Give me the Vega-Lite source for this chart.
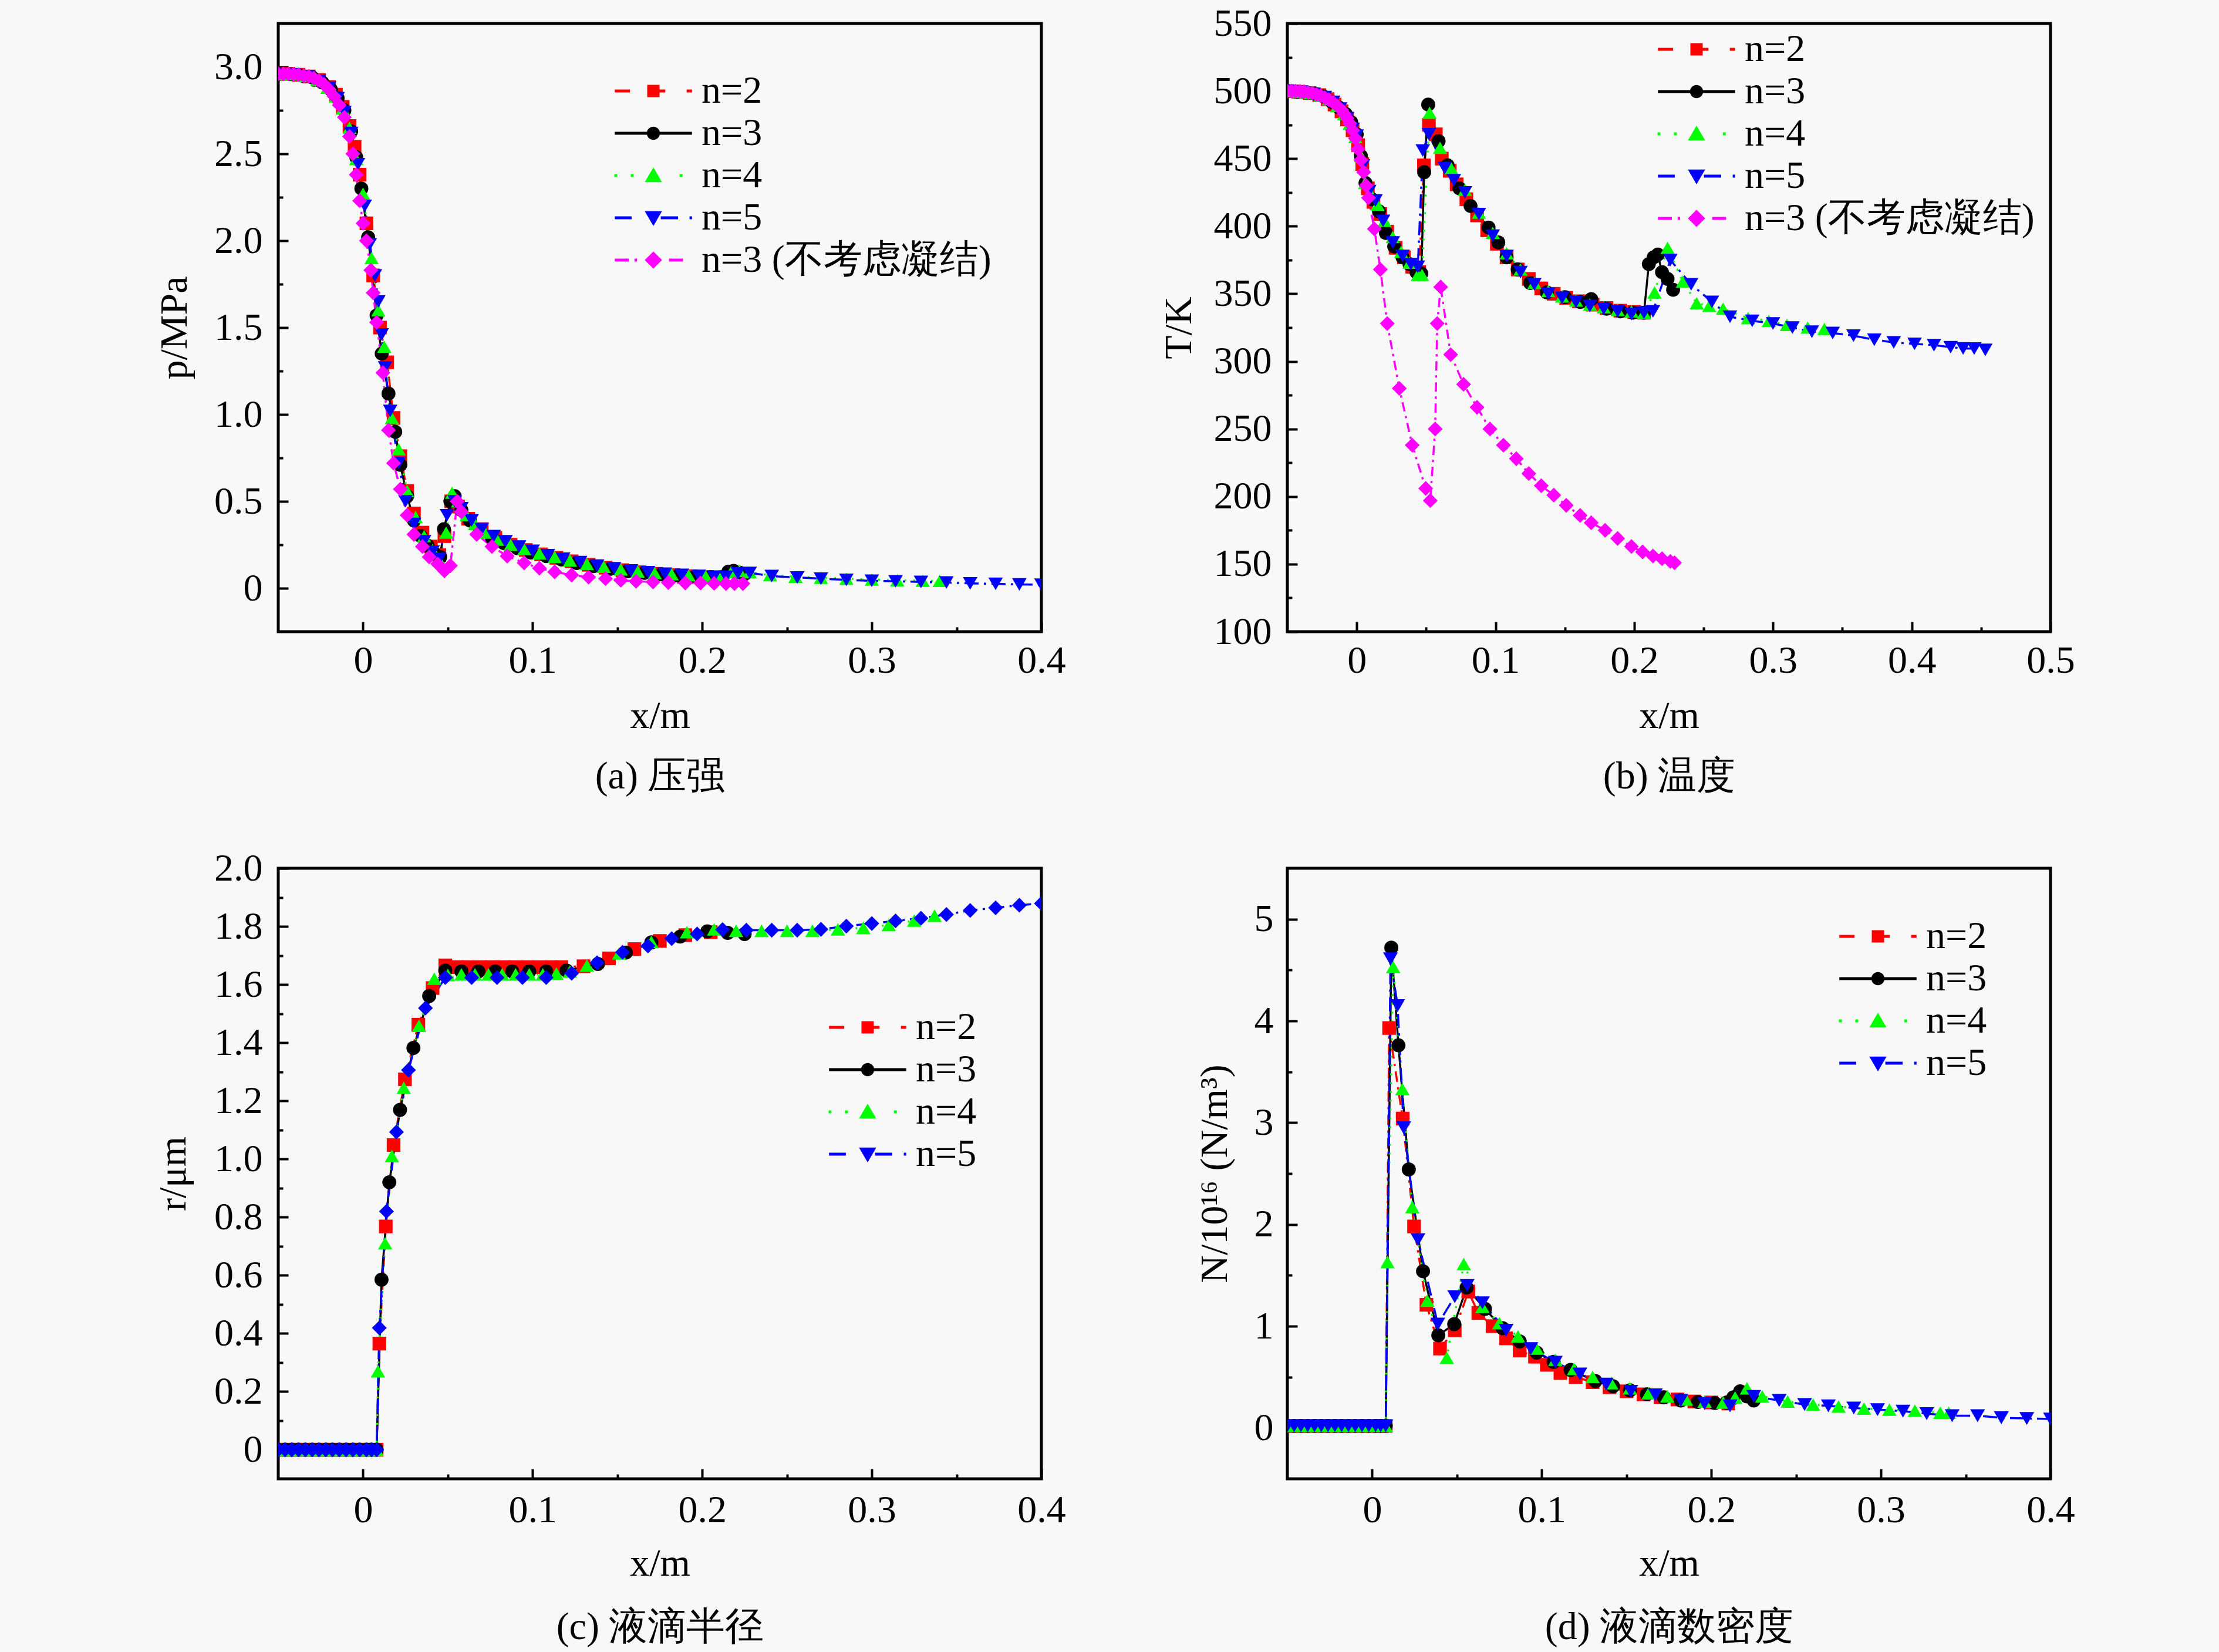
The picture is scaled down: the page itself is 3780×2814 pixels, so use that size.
{
  "$schema": "https://vega.github.io/schema/vega-lite/v6.json",
  "background": "#F8F8F8",
  "padding": {"left": 259, "top": 4, "right": 260, "bottom": 40},
  "config": {
    "font": "Liberation Serif",
    "view": {"stroke": "black", "strokeWidth": 5},
    "axis": {
      "grid": false, "domain": false,
      "labelFont": "Liberation Serif", "labelFontSize": 66, "labelColor": "black",
      "titleFont": "Liberation Serif", "titleFontSize": 66, "titleFontWeight": "normal", "titleColor": "black",
      "titleAlign": "center", "titleBaseline": "alphabetic",
      "tickColor": "black", "tickWidth": 4,
      "labelFlush": false, "labelOverlap": false, "labelBound": false
    },
    "legend": {
      "labelFont": "Liberation Serif", "labelFontSize": 66, "labelColor": "black", "labelLimit": 0,
      "symbolStrokeWidth": 0, "symbolSize": 784, "symbolOpacity": 1, "rowPadding": 6, "padding": 0, "labelOffset": 49
    }
  },
  "datasets": {
    "a": [
      {"s":"n=2","x":-0.05,"y":2.96},{"s":"n=2","x":-0.044,"y":2.96},{"s":"n=2","x":-0.038,"y":2.955},{"s":"n=2","x":-0.032,"y":2.945},{"s":"n=2","x":-0.026,"y":2.925},{"s":"n=2","x":-0.02,"y":2.885},{"s":"n=2","x":-0.016,"y":2.84},{"s":"n=2","x":-0.012,"y":2.77},{"s":"n=2","x":-0.008,"y":2.66},{"s":"n=2","x":-0.005,"y":2.54},{"s":"n=2","x":-0.002,"y":2.38},{"s":"n=2","x":0.002,"y":2.1},{"s":"n=2","x":0.006,"y":1.8},{"s":"n=2","x":0.01,"y":1.5},{"s":"n=2","x":0.0142,"y":1.3},{"s":"n=2","x":0.018,"y":0.98},{"s":"n=2","x":0.022,"y":0.76},{"s":"n=2","x":0.026,"y":0.56},{"s":"n=2","x":0.03,"y":0.43},{"s":"n=2","x":0.035,"y":0.32},{"s":"n=2","x":0.04,"y":0.24},{"s":"n=2","x":0.045,"y":0.19},{"s":"n=2","x":0.048,"y":0.3},{"s":"n=2","x":0.052,"y":0.5},{"s":"n=2","x":0.056,"y":0.47},{"s":"n=2","x":0.062,"y":0.4},{"s":"n=2","x":0.07,"y":0.34},{"s":"n=2","x":0.078,"y":0.29},{"s":"n=2","x":0.087,"y":0.25},{"s":"n=2","x":0.096,"y":0.22},{"s":"n=2","x":0.105,"y":0.195},{"s":"n=2","x":0.114,"y":0.175},{"s":"n=2","x":0.123,"y":0.155},{"s":"n=2","x":0.133,"y":0.135},{"s":"n=2","x":0.143,"y":0.118},{"s":"n=2","x":0.153,"y":0.104},{"s":"n=2","x":0.163,"y":0.092},{"s":"n=2","x":0.173,"y":0.083},{"s":"n=2","x":0.183,"y":0.075},{"s":"n=2","x":0.193,"y":0.069},{"s":"n=2","x":0.203,"y":0.064},{"s":"n=2","x":0.21,"y":0.062},
      {"s":"n=3","x":-0.05,"y":2.96},{"s":"n=3","x":-0.043,"y":2.958},{"s":"n=3","x":-0.036,"y":2.95},{"s":"n=3","x":-0.03,"y":2.94},{"s":"n=3","x":-0.024,"y":2.91},{"s":"n=3","x":-0.019,"y":2.87},{"s":"n=3","x":-0.015,"y":2.82},{"s":"n=3","x":-0.011,"y":2.75},{"s":"n=3","x":-0.007,"y":2.63},{"s":"n=3","x":-0.004,"y":2.48},{"s":"n=3","x":-0.001,"y":2.3},{"s":"n=3","x":0.003,"y":2.02},{"s":"n=3","x":0.008,"y":1.57},{"s":"n=3","x":0.011,"y":1.35},{"s":"n=3","x":0.015,"y":1.12},{"s":"n=3","x":0.019,"y":0.9},{"s":"n=3","x":0.022,"y":0.71},{"s":"n=3","x":0.026,"y":0.53},{"s":"n=3","x":0.03,"y":0.39},{"s":"n=3","x":0.034,"y":0.3},{"s":"n=3","x":0.038,"y":0.245},{"s":"n=3","x":0.042,"y":0.2},{"s":"n=3","x":0.0455,"y":0.18},{"s":"n=3","x":0.0477,"y":0.34},{"s":"n=3","x":0.0515,"y":0.5},{"s":"n=3","x":0.054,"y":0.53},{"s":"n=3","x":0.058,"y":0.45},{"s":"n=3","x":0.063,"y":0.39},{"s":"n=3","x":0.069,"y":0.33},{"s":"n=3","x":0.076,"y":0.29},{"s":"n=3","x":0.083,"y":0.26},{"s":"n=3","x":0.091,"y":0.23},{"s":"n=3","x":0.099,"y":0.205},{"s":"n=3","x":0.108,"y":0.185},{"s":"n=3","x":0.117,"y":0.165},{"s":"n=3","x":0.126,"y":0.145},{"s":"n=3","x":0.136,"y":0.127},{"s":"n=3","x":0.146,"y":0.112},{"s":"n=3","x":0.156,"y":0.098},{"s":"n=3","x":0.166,"y":0.088},{"s":"n=3","x":0.176,"y":0.08},{"s":"n=3","x":0.186,"y":0.073},{"s":"n=3","x":0.196,"y":0.068},{"s":"n=3","x":0.205,"y":0.064},{"s":"n=3","x":0.212,"y":0.066},{"s":"n=3","x":0.2155,"y":0.096},{"s":"n=3","x":0.2185,"y":0.1},{"s":"n=3","x":0.222,"y":0.09},{"s":"n=3","x":0.225,"y":0.082},
      {"s":"n=4","x":-0.05,"y":2.96},{"s":"n=4","x":-0.042,"y":2.958},{"s":"n=4","x":-0.034,"y":2.948},{"s":"n=4","x":-0.027,"y":2.925},{"s":"n=4","x":-0.021,"y":2.88},{"s":"n=4","x":-0.016,"y":2.83},{"s":"n=4","x":-0.012,"y":2.76},{"s":"n=4","x":-0.008,"y":2.65},{"s":"n=4","x":-0.004,"y":2.47},{"s":"n=4","x":0.0,"y":2.27},{"s":"n=4","x":0.005,"y":1.9},{"s":"n=4","x":0.009,"y":1.6},{"s":"n=4","x":0.0125,"y":1.39},{"s":"n=4","x":0.017,"y":0.98},{"s":"n=4","x":0.021,"y":0.8},{"s":"n=4","x":0.026,"y":0.56},{"s":"n=4","x":0.031,"y":0.41},{"s":"n=4","x":0.036,"y":0.3},{"s":"n=4","x":0.041,"y":0.22},{"s":"n=4","x":0.045,"y":0.16},{"s":"n=4","x":0.049,"y":0.32},{"s":"n=4","x":0.0525,"y":0.55},{"s":"n=4","x":0.056,"y":0.5},{"s":"n=4","x":0.061,"y":0.42},{"s":"n=4","x":0.066,"y":0.37},{"s":"n=4","x":0.072,"y":0.32},{"s":"n=4","x":0.079,"y":0.28},{"s":"n=4","x":0.087,"y":0.25},{"s":"n=4","x":0.095,"y":0.225},{"s":"n=4","x":0.104,"y":0.2},{"s":"n=4","x":0.113,"y":0.18},{"s":"n=4","x":0.122,"y":0.16},{"s":"n=4","x":0.132,"y":0.14},{"s":"n=4","x":0.142,"y":0.123},{"s":"n=4","x":0.152,"y":0.108},{"s":"n=4","x":0.162,"y":0.096},{"s":"n=4","x":0.172,"y":0.087},{"s":"n=4","x":0.182,"y":0.08},{"s":"n=4","x":0.192,"y":0.074},{"s":"n=4","x":0.202,"y":0.07},{"s":"n=4","x":0.211,"y":0.072},{"s":"n=4","x":0.217,"y":0.092},{"s":"n=4","x":0.222,"y":0.1},{"s":"n=4","x":0.228,"y":0.092},{"s":"n=4","x":0.24,"y":0.075},{"s":"n=4","x":0.255,"y":0.066},{"s":"n=4","x":0.27,"y":0.06},{"s":"n=4","x":0.285,"y":0.055},{"s":"n=4","x":0.3,"y":0.05},{"s":"n=4","x":0.315,"y":0.046},{"s":"n=4","x":0.33,"y":0.043},{"s":"n=4","x":0.34,"y":0.042},
      {"s":"n=5","x":-0.05,"y":2.96},{"s":"n=5","x":-0.041,"y":2.957},{"s":"n=5","x":-0.033,"y":2.946},{"s":"n=5","x":-0.026,"y":2.92},{"s":"n=5","x":-0.02,"y":2.88},{"s":"n=5","x":-0.015,"y":2.82},{"s":"n=5","x":-0.011,"y":2.74},{"s":"n=5","x":-0.007,"y":2.62},{"s":"n=5","x":-0.003,"y":2.44},{"s":"n=5","x":0.001,"y":2.2},{"s":"n=5","x":0.004,"y":1.98},{"s":"n=5","x":0.007,"y":1.8},{"s":"n=5","x":0.009,"y":1.65},{"s":"n=5","x":0.011,"y":1.46},{"s":"n=5","x":0.013,"y":1.27},{"s":"n=5","x":0.016,"y":1.02},{"s":"n=5","x":0.021,"y":0.72},{"s":"n=5","x":0.025,"y":0.5},{"s":"n=5","x":0.03,"y":0.37},{"s":"n=5","x":0.036,"y":0.27},{"s":"n=5","x":0.041,"y":0.21},{"s":"n=5","x":0.045,"y":0.17},{"s":"n=5","x":0.0495,"y":0.42},{"s":"n=5","x":0.054,"y":0.5},{"s":"n=5","x":0.058,"y":0.46},{"s":"n=5","x":0.064,"y":0.39},{"s":"n=5","x":0.07,"y":0.34},{"s":"n=5","x":0.077,"y":0.3},{"s":"n=5","x":0.084,"y":0.27},{"s":"n=5","x":0.092,"y":0.24},{"s":"n=5","x":0.1,"y":0.215},{"s":"n=5","x":0.109,"y":0.19},{"s":"n=5","x":0.118,"y":0.17},{"s":"n=5","x":0.128,"y":0.15},{"s":"n=5","x":0.138,"y":0.13},{"s":"n=5","x":0.148,"y":0.115},{"s":"n=5","x":0.158,"y":0.102},{"s":"n=5","x":0.168,"y":0.092},{"s":"n=5","x":0.178,"y":0.084},{"s":"n=5","x":0.188,"y":0.077},{"s":"n=5","x":0.198,"y":0.071},{"s":"n=5","x":0.207,"y":0.067},{"s":"n=5","x":0.214,"y":0.066},{"s":"n=5","x":0.221,"y":0.085},{"s":"n=5","x":0.228,"y":0.088},{"s":"n=5","x":0.241,"y":0.07},{"s":"n=5","x":0.256,"y":0.062},{"s":"n=5","x":0.27,"y":0.055},{"s":"n=5","x":0.285,"y":0.048},{"s":"n=5","x":0.3,"y":0.043},{"s":"n=5","x":0.314,"y":0.04},{"s":"n=5","x":0.329,"y":0.036},{"s":"n=5","x":0.344,"y":0.033},{"s":"n=5","x":0.358,"y":0.028},{"s":"n=5","x":0.373,"y":0.025},{"s":"n=5","x":0.387,"y":0.022},{"s":"n=5","x":0.4,"y":0.02},
      {"s":"n=3 (不考虑凝结)","x":-0.05,"y":2.96},{"s":"n=3 (不考虑凝结)","x":-0.047,"y":2.96},{"s":"n=3 (不考虑凝结)","x":-0.044,"y":2.96},{"s":"n=3 (不考虑凝结)","x":-0.041,"y":2.958},{"s":"n=3 (不考虑凝结)","x":-0.038,"y":2.955},{"s":"n=3 (不考虑凝结)","x":-0.035,"y":2.95},{"s":"n=3 (不考虑凝结)","x":-0.032,"y":2.945},{"s":"n=3 (不考虑凝结)","x":-0.029,"y":2.935},{"s":"n=3 (不考虑凝结)","x":-0.026,"y":2.92},{"s":"n=3 (不考虑凝结)","x":-0.023,"y":2.9},{"s":"n=3 (不考虑凝结)","x":-0.02,"y":2.87},{"s":"n=3 (不考虑凝结)","x":-0.017,"y":2.83},{"s":"n=3 (不考虑凝结)","x":-0.014,"y":2.78},{"s":"n=3 (不考虑凝结)","x":-0.011,"y":2.71},{"s":"n=3 (不考虑凝结)","x":-0.008,"y":2.6},{"s":"n=3 (不考虑凝结)","x":-0.006,"y":2.5},{"s":"n=3 (不考虑凝结)","x":-0.004,"y":2.38},{"s":"n=3 (不考虑凝结)","x":-0.002,"y":2.23},{"s":"n=3 (不考虑凝结)","x":0.0,"y":2.1},{"s":"n=3 (不考虑凝结)","x":0.002,"y":2.0},{"s":"n=3 (不考虑凝结)","x":0.0046,"y":1.83},{"s":"n=3 (不考虑凝结)","x":0.006,"y":1.7},{"s":"n=3 (不考虑凝结)","x":0.008,"y":1.53},{"s":"n=3 (不考虑凝结)","x":0.0117,"y":1.24},{"s":"n=3 (不考虑凝结)","x":0.015,"y":0.91},{"s":"n=3 (不考虑凝结)","x":0.018,"y":0.72},{"s":"n=3 (不考虑凝结)","x":0.022,"y":0.57},{"s":"n=3 (不考虑凝结)","x":0.026,"y":0.42},{"s":"n=3 (不考虑凝结)","x":0.03,"y":0.31},{"s":"n=3 (不考虑凝结)","x":0.035,"y":0.24},{"s":"n=3 (不考虑凝结)","x":0.039,"y":0.18},{"s":"n=3 (不考虑凝结)","x":0.044,"y":0.14},{"s":"n=3 (不考虑凝结)","x":0.048,"y":0.1},{"s":"n=3 (不考虑凝结)","x":0.0515,"y":0.13},{"s":"n=3 (不考虑凝结)","x":0.0555,"y":0.5},{"s":"n=3 (不考虑凝结)","x":0.058,"y":0.44},{"s":"n=3 (不考虑凝结)","x":0.067,"y":0.31},{"s":"n=3 (不考虑凝结)","x":0.076,"y":0.24},{"s":"n=3 (不考虑凝结)","x":0.085,"y":0.185},{"s":"n=3 (不考虑凝结)","x":0.095,"y":0.146},{"s":"n=3 (不考虑凝结)","x":0.104,"y":0.115},{"s":"n=3 (不考虑凝结)","x":0.113,"y":0.094},{"s":"n=3 (不考虑凝结)","x":0.123,"y":0.076},{"s":"n=3 (不考虑凝结)","x":0.133,"y":0.064},{"s":"n=3 (不考虑凝结)","x":0.143,"y":0.055},{"s":"n=3 (不考虑凝结)","x":0.152,"y":0.046},{"s":"n=3 (不考虑凝结)","x":0.161,"y":0.04},{"s":"n=3 (不考虑凝结)","x":0.171,"y":0.036},{"s":"n=3 (不考虑凝结)","x":0.18,"y":0.033},{"s":"n=3 (不考虑凝结)","x":0.19,"y":0.03},{"s":"n=3 (不考虑凝结)","x":0.199,"y":0.03},{"s":"n=3 (不考虑凝结)","x":0.207,"y":0.028},{"s":"n=3 (不考虑凝结)","x":0.214,"y":0.027},{"s":"n=3 (不考虑凝结)","x":0.219,"y":0.027},{"s":"n=3 (不考虑凝结)","x":0.224,"y":0.027}
    ],
    "b": [
      {"s":"n=2","x":-0.05,"y":500},{"s":"n=2","x":-0.042,"y":499.5},{"s":"n=2","x":-0.034,"y":498.5},{"s":"n=2","x":-0.027,"y":497},{"s":"n=2","x":-0.021,"y":494},{"s":"n=2","x":-0.016,"y":490},{"s":"n=2","x":-0.011,"y":485},{"s":"n=2","x":-0.007,"y":479},{"s":"n=2","x":-0.003,"y":471},{"s":"n=2","x":0.001,"y":460},{"s":"n=2","x":0.004,"y":446},{"s":"n=2","x":0.008,"y":428},{"s":"n=2","x":0.012,"y":418},{"s":"n=2","x":0.017,"y":409},{"s":"n=2","x":0.022,"y":396},{"s":"n=2","x":0.028,"y":384},{"s":"n=2","x":0.034,"y":377},{"s":"n=2","x":0.04,"y":370},{"s":"n=2","x":0.045,"y":366},{"s":"n=2","x":0.0484,"y":445},{"s":"n=2","x":0.052,"y":475},{"s":"n=2","x":0.057,"y":468},{"s":"n=2","x":0.0613,"y":450},{"s":"n=2","x":0.067,"y":441},{"s":"n=2","x":0.072,"y":431},{"s":"n=2","x":0.079,"y":420},{"s":"n=2","x":0.0867,"y":408},{"s":"n=2","x":0.094,"y":397},{"s":"n=2","x":0.101,"y":387},{"s":"n=2","x":0.108,"y":377},{"s":"n=2","x":0.116,"y":368},{"s":"n=2","x":0.124,"y":361},{"s":"n=2","x":0.133,"y":354},{"s":"n=2","x":0.142,"y":350},{"s":"n=2","x":0.151,"y":347},{"s":"n=2","x":0.16,"y":344.5},{"s":"n=2","x":0.17,"y":342},{"s":"n=2","x":0.18,"y":339.5},{"s":"n=2","x":0.19,"y":337.5},{"s":"n=2","x":0.2,"y":336.5},{"s":"n=2","x":0.207,"y":336},
      {"s":"n=3","x":-0.05,"y":500},{"s":"n=3","x":-0.043,"y":499.5},{"s":"n=3","x":-0.036,"y":499},{"s":"n=3","x":-0.03,"y":498},{"s":"n=3","x":-0.024,"y":496},{"s":"n=3","x":-0.018,"y":492},{"s":"n=3","x":-0.013,"y":488},{"s":"n=3","x":-0.008,"y":483},{"s":"n=3","x":-0.004,"y":477},{"s":"n=3","x":0.0,"y":468},{"s":"n=3","x":0.003,"y":452},{"s":"n=3","x":0.0063,"y":432},{"s":"n=3","x":0.011,"y":420},{"s":"n=3","x":0.016,"y":411},{"s":"n=3","x":0.021,"y":395},{"s":"n=3","x":0.027,"y":385},{"s":"n=3","x":0.033,"y":377},{"s":"n=3","x":0.038,"y":372},{"s":"n=3","x":0.043,"y":366},{"s":"n=3","x":0.0465,"y":365},{"s":"n=3","x":0.0486,"y":440},{"s":"n=3","x":0.0515,"y":490},{"s":"n=3","x":0.059,"y":463},{"s":"n=3","x":0.0655,"y":445},{"s":"n=3","x":0.074,"y":428},{"s":"n=3","x":0.082,"y":415},{"s":"n=3","x":0.095,"y":399},{"s":"n=3","x":0.102,"y":388},{"s":"n=3","x":0.108,"y":377},{"s":"n=3","x":0.116,"y":368},{"s":"n=3","x":0.125,"y":358},{"s":"n=3","x":0.137,"y":351},{"s":"n=3","x":0.15,"y":347.5},{"s":"n=3","x":0.161,"y":344},{"s":"n=3","x":0.169,"y":346},{"s":"n=3","x":0.18,"y":339},{"s":"n=3","x":0.19,"y":337},{"s":"n=3","x":0.199,"y":336},{"s":"n=3","x":0.207,"y":336},{"s":"n=3","x":0.2105,"y":372},{"s":"n=3","x":0.214,"y":377},{"s":"n=3","x":0.217,"y":379},{"s":"n=3","x":0.22,"y":366},{"s":"n=3","x":0.224,"y":361},{"s":"n=3","x":0.228,"y":353},
      {"s":"n=4","x":-0.05,"y":500},{"s":"n=4","x":-0.041,"y":499.5},{"s":"n=4","x":-0.033,"y":498.5},{"s":"n=4","x":-0.026,"y":496.5},{"s":"n=4","x":-0.02,"y":494},{"s":"n=4","x":-0.014,"y":489},{"s":"n=4","x":-0.009,"y":483},{"s":"n=4","x":-0.005,"y":476},{"s":"n=4","x":-0.001,"y":466},{"s":"n=4","x":0.003,"y":452},{"s":"n=4","x":0.006,"y":432},{"s":"n=4","x":0.01,"y":424},{"s":"n=4","x":0.015,"y":416},{"s":"n=4","x":0.02,"y":404},{"s":"n=4","x":0.026,"y":392},{"s":"n=4","x":0.032,"y":381},{"s":"n=4","x":0.038,"y":373},{"s":"n=4","x":0.044,"y":364},{"s":"n=4","x":0.047,"y":364},{"s":"n=4","x":0.0525,"y":484},{"s":"n=4","x":0.06,"y":458},{"s":"n=4","x":0.068,"y":443},{"s":"n=4","x":0.078,"y":427},{"s":"n=4","x":0.088,"y":410},{"s":"n=4","x":0.098,"y":395},{"s":"n=4","x":0.108,"y":380},{"s":"n=4","x":0.118,"y":368},{"s":"n=4","x":0.128,"y":358},{"s":"n=4","x":0.138,"y":352},{"s":"n=4","x":0.148,"y":348},{"s":"n=4","x":0.158,"y":345},{"s":"n=4","x":0.168,"y":342},{"s":"n=4","x":0.178,"y":340},{"s":"n=4","x":0.188,"y":338},{"s":"n=4","x":0.198,"y":337},{"s":"n=4","x":0.207,"y":336},{"s":"n=4","x":0.2146,"y":351},{"s":"n=4","x":0.224,"y":384},{"s":"n=4","x":0.235,"y":359},{"s":"n=4","x":0.245,"y":343},{"s":"n=4","x":0.254,"y":341},{"s":"n=4","x":0.264,"y":339},{"s":"n=4","x":0.282,"y":332},{"s":"n=4","x":0.297,"y":330},{"s":"n=4","x":0.31,"y":327},{"s":"n=4","x":0.325,"y":325},{"s":"n=4","x":0.337,"y":324},
      {"s":"n=5","x":-0.05,"y":500},{"s":"n=5","x":-0.04,"y":499.5},{"s":"n=5","x":-0.031,"y":498},{"s":"n=5","x":-0.023,"y":495.5},{"s":"n=5","x":-0.017,"y":492},{"s":"n=5","x":-0.012,"y":487},{"s":"n=5","x":-0.007,"y":480},{"s":"n=5","x":-0.003,"y":472},{"s":"n=5","x":0.0,"y":467},{"s":"n=5","x":0.0045,"y":445},{"s":"n=5","x":0.009,"y":426},{"s":"n=5","x":0.0135,"y":419},{"s":"n=5","x":0.019,"y":404},{"s":"n=5","x":0.026,"y":388},{"s":"n=5","x":0.033,"y":378},{"s":"n=5","x":0.039,"y":372},{"s":"n=5","x":0.044,"y":370},{"s":"n=5","x":0.0476,"y":456},{"s":"n=5","x":0.052,"y":468},{"s":"n=5","x":0.0634,"y":443},{"s":"n=5","x":0.07,"y":434},{"s":"n=5","x":0.078,"y":425},{"s":"n=5","x":0.088,"y":409},{"s":"n=5","x":0.098,"y":393},{"s":"n=5","x":0.108,"y":378},{"s":"n=5","x":0.118,"y":366},{"s":"n=5","x":0.128,"y":357},{"s":"n=5","x":0.138,"y":350},{"s":"n=5","x":0.148,"y":347},{"s":"n=5","x":0.158,"y":344},{"s":"n=5","x":0.168,"y":341},{"s":"n=5","x":0.178,"y":339},{"s":"n=5","x":0.188,"y":337},{"s":"n=5","x":0.198,"y":335},{"s":"n=5","x":0.207,"y":336},{"s":"n=5","x":0.2135,"y":337},{"s":"n=5","x":0.226,"y":375},{"s":"n=5","x":0.241,"y":357},{"s":"n=5","x":0.256,"y":344},{"s":"n=5","x":0.269,"y":333},{"s":"n=5","x":0.285,"y":330},{"s":"n=5","x":0.3,"y":328},{"s":"n=5","x":0.314,"y":325},{"s":"n=5","x":0.328,"y":322},{"s":"n=5","x":0.343,"y":321},{"s":"n=5","x":0.358,"y":319},{"s":"n=5","x":0.373,"y":316},{"s":"n=5","x":0.387,"y":314},{"s":"n=5","x":0.402,"y":313},{"s":"n=5","x":0.416,"y":312},{"s":"n=5","x":0.428,"y":310.5},{"s":"n=5","x":0.437,"y":309.6},{"s":"n=5","x":0.445,"y":309.5},{"s":"n=5","x":0.453,"y":308.5},
      {"s":"n=3 (不考虑凝结)","x":-0.05,"y":500},{"s":"n=3 (不考虑凝结)","x":-0.047,"y":500},{"s":"n=3 (不考虑凝结)","x":-0.044,"y":500},{"s":"n=3 (不考虑凝结)","x":-0.041,"y":499.8},{"s":"n=3 (不考虑凝结)","x":-0.038,"y":499.5},{"s":"n=3 (不考虑凝结)","x":-0.035,"y":499},{"s":"n=3 (不考虑凝结)","x":-0.032,"y":498.5},{"s":"n=3 (不考虑凝结)","x":-0.029,"y":497.5},{"s":"n=3 (不考虑凝结)","x":-0.026,"y":496.5},{"s":"n=3 (不考虑凝结)","x":-0.023,"y":495},{"s":"n=3 (不考虑凝结)","x":-0.02,"y":493.5},{"s":"n=3 (不考虑凝结)","x":-0.017,"y":491.5},{"s":"n=3 (不考虑凝结)","x":-0.014,"y":489},{"s":"n=3 (不考虑凝结)","x":-0.011,"y":486},{"s":"n=3 (不考虑凝结)","x":-0.009,"y":483},{"s":"n=3 (不考虑凝结)","x":-0.007,"y":480},{"s":"n=3 (不考虑凝结)","x":-0.005,"y":476},{"s":"n=3 (不考虑凝结)","x":-0.003,"y":471},{"s":"n=3 (不考虑凝结)","x":-0.001,"y":465},{"s":"n=3 (不考虑凝结)","x":0.001,"y":457},{"s":"n=3 (不考虑凝结)","x":0.003,"y":449},{"s":"n=3 (不考虑凝结)","x":0.005,"y":440},{"s":"n=3 (不考虑凝结)","x":0.0068,"y":430},{"s":"n=3 (不考虑凝结)","x":0.0085,"y":421},{"s":"n=3 (不考虑凝结)","x":0.0127,"y":398},{"s":"n=3 (不考虑凝结)","x":0.017,"y":368},{"s":"n=3 (不考虑凝结)","x":0.022,"y":328},{"s":"n=3 (不考虑凝结)","x":0.0307,"y":280},{"s":"n=3 (不考虑凝结)","x":0.04,"y":238},{"s":"n=3 (不考虑凝结)","x":0.0497,"y":206},{"s":"n=3 (不考虑凝结)","x":0.053,"y":197},{"s":"n=3 (不考虑凝结)","x":0.0565,"y":250},{"s":"n=3 (不考虑凝结)","x":0.058,"y":328},{"s":"n=3 (不考虑凝结)","x":0.0605,"y":355},{"s":"n=3 (不考虑凝结)","x":0.0677,"y":305},{"s":"n=3 (不考虑凝结)","x":0.077,"y":283},{"s":"n=3 (不考虑凝结)","x":0.0867,"y":266},{"s":"n=3 (不考虑凝结)","x":0.096,"y":250},{"s":"n=3 (不考虑凝结)","x":0.1057,"y":238},{"s":"n=3 (不考虑凝结)","x":0.115,"y":228},{"s":"n=3 (不考虑凝结)","x":0.124,"y":217},{"s":"n=3 (不考虑凝结)","x":0.133,"y":208},{"s":"n=3 (不考虑凝结)","x":0.142,"y":201},{"s":"n=3 (不考虑凝结)","x":0.151,"y":193.5},{"s":"n=3 (不考虑凝结)","x":0.161,"y":186},{"s":"n=3 (不考虑凝结)","x":0.169,"y":180.6},{"s":"n=3 (不考虑凝结)","x":0.179,"y":175},{"s":"n=3 (不考虑凝结)","x":0.188,"y":169},{"s":"n=3 (不考虑凝结)","x":0.198,"y":163},{"s":"n=3 (不考虑凝结)","x":0.206,"y":159},{"s":"n=3 (不考虑凝结)","x":0.2135,"y":156},{"s":"n=3 (不考虑凝结)","x":0.22,"y":154},{"s":"n=3 (不考虑凝结)","x":0.226,"y":152},{"s":"n=3 (不考虑凝结)","x":0.229,"y":151}
    ],
    "c": [
      {"s":"n=2","x":-0.05,"y":0},{"s":"n=2","x":-0.046,"y":0},{"s":"n=2","x":-0.042,"y":0},{"s":"n=2","x":-0.038,"y":0},{"s":"n=2","x":-0.034,"y":0},{"s":"n=2","x":-0.03,"y":0},{"s":"n=2","x":-0.026,"y":0},{"s":"n=2","x":-0.022,"y":0},{"s":"n=2","x":-0.018,"y":0},{"s":"n=2","x":-0.014,"y":0},{"s":"n=2","x":-0.01,"y":0},{"s":"n=2","x":-0.006,"y":0},{"s":"n=2","x":-0.002,"y":0},{"s":"n=2","x":0.002,"y":0},{"s":"n=2","x":0.005,"y":0},{"s":"n=2","x":0.008,"y":0},{"s":"n=2","x":0.0096,"y":0.365},{"s":"n=2","x":0.0134,"y":0.768},{"s":"n=2","x":0.018,"y":1.048},{"s":"n=2","x":0.0247,"y":1.274},{"s":"n=2","x":0.0326,"y":1.462},{"s":"n=2","x":0.041,"y":1.588},{"s":"n=2","x":0.0485,"y":1.666},{"s":"n=2","x":0.055,"y":1.66},{"s":"n=2","x":0.062,"y":1.66},{"s":"n=2","x":0.069,"y":1.66},{"s":"n=2","x":0.076,"y":1.66},{"s":"n=2","x":0.083,"y":1.66},{"s":"n=2","x":0.09,"y":1.66},{"s":"n=2","x":0.097,"y":1.66},{"s":"n=2","x":0.104,"y":1.66},{"s":"n=2","x":0.111,"y":1.66},{"s":"n=2","x":0.117,"y":1.66},{"s":"n=2","x":0.13,"y":1.663},{"s":"n=2","x":0.145,"y":1.69},{"s":"n=2","x":0.16,"y":1.722},{"s":"n=2","x":0.175,"y":1.75},{"s":"n=2","x":0.19,"y":1.77},{"s":"n=2","x":0.205,"y":1.78},
      {"s":"n=3","x":-0.05,"y":0},{"s":"n=3","x":-0.046,"y":0},{"s":"n=3","x":-0.042,"y":0},{"s":"n=3","x":-0.038,"y":0},{"s":"n=3","x":-0.034,"y":0},{"s":"n=3","x":-0.03,"y":0},{"s":"n=3","x":-0.026,"y":0},{"s":"n=3","x":-0.022,"y":0},{"s":"n=3","x":-0.018,"y":0},{"s":"n=3","x":-0.014,"y":0},{"s":"n=3","x":-0.01,"y":0},{"s":"n=3","x":-0.006,"y":0},{"s":"n=3","x":-0.002,"y":0},{"s":"n=3","x":0.002,"y":0},{"s":"n=3","x":0.005,"y":0},{"s":"n=3","x":0.008,"y":0},{"s":"n=3","x":0.0109,"y":0.585},{"s":"n=3","x":0.0155,"y":0.92},{"s":"n=3","x":0.0218,"y":1.169},{"s":"n=3","x":0.0297,"y":1.382},{"s":"n=3","x":0.039,"y":1.561},{"s":"n=3","x":0.0485,"y":1.648},{"s":"n=3","x":0.058,"y":1.645},{"s":"n=3","x":0.068,"y":1.645},{"s":"n=3","x":0.078,"y":1.645},{"s":"n=3","x":0.088,"y":1.645},{"s":"n=3","x":0.098,"y":1.645},{"s":"n=3","x":0.108,"y":1.645},{"s":"n=3","x":0.12,"y":1.648},{"s":"n=3","x":0.1385,"y":1.671},{"s":"n=3","x":0.155,"y":1.71},{"s":"n=3","x":0.17,"y":1.745},{"s":"n=3","x":0.187,"y":1.765},{"s":"n=3","x":0.203,"y":1.783},{"s":"n=3","x":0.215,"y":1.778},{"s":"n=3","x":0.225,"y":1.774},
      {"s":"n=4","x":-0.05,"y":0},{"s":"n=4","x":-0.046,"y":0},{"s":"n=4","x":-0.042,"y":0},{"s":"n=4","x":-0.038,"y":0},{"s":"n=4","x":-0.034,"y":0},{"s":"n=4","x":-0.03,"y":0},{"s":"n=4","x":-0.026,"y":0},{"s":"n=4","x":-0.022,"y":0},{"s":"n=4","x":-0.018,"y":0},{"s":"n=4","x":-0.014,"y":0},{"s":"n=4","x":-0.01,"y":0},{"s":"n=4","x":-0.006,"y":0},{"s":"n=4","x":-0.002,"y":0},{"s":"n=4","x":0.002,"y":0},{"s":"n=4","x":0.005,"y":0},{"s":"n=4","x":0.008,"y":0},{"s":"n=4","x":0.0088,"y":0.27},{"s":"n=4","x":0.013,"y":0.71},{"s":"n=4","x":0.017,"y":1.01},{"s":"n=4","x":0.024,"y":1.245},{"s":"n=4","x":0.033,"y":1.458},{"s":"n=4","x":0.042,"y":1.62},{"s":"n=4","x":0.05,"y":1.633},{"s":"n=4","x":0.058,"y":1.635},{"s":"n=4","x":0.066,"y":1.635},{"s":"n=4","x":0.074,"y":1.635},{"s":"n=4","x":0.082,"y":1.635},{"s":"n=4","x":0.09,"y":1.635},{"s":"n=4","x":0.098,"y":1.635},{"s":"n=4","x":0.106,"y":1.635},{"s":"n=4","x":0.114,"y":1.638},{"s":"n=4","x":0.122,"y":1.645},{"s":"n=4","x":0.132,"y":1.665},{"s":"n=4","x":0.151,"y":1.707},{"s":"n=4","x":0.17,"y":1.747},{"s":"n=4","x":0.191,"y":1.78},{"s":"n=4","x":0.207,"y":1.79},{"s":"n=4","x":0.22,"y":1.785},{"s":"n=4","x":0.235,"y":1.785},{"s":"n=4","x":0.25,"y":1.785},{"s":"n=4","x":0.265,"y":1.785},{"s":"n=4","x":0.28,"y":1.79},{"s":"n=4","x":0.295,"y":1.795},{"s":"n=4","x":0.31,"y":1.805},{"s":"n=4","x":0.325,"y":1.82},{"s":"n=4","x":0.337,"y":1.837},
      {"s":"n=5","x":-0.05,"y":0},{"s":"n=5","x":-0.046,"y":0},{"s":"n=5","x":-0.042,"y":0},{"s":"n=5","x":-0.038,"y":0},{"s":"n=5","x":-0.034,"y":0},{"s":"n=5","x":-0.03,"y":0},{"s":"n=5","x":-0.026,"y":0},{"s":"n=5","x":-0.022,"y":0},{"s":"n=5","x":-0.018,"y":0},{"s":"n=5","x":-0.014,"y":0},{"s":"n=5","x":-0.01,"y":0},{"s":"n=5","x":-0.006,"y":0},{"s":"n=5","x":-0.002,"y":0},{"s":"n=5","x":0.002,"y":0},{"s":"n=5","x":0.005,"y":0},{"s":"n=5","x":0.008,"y":0},{"s":"n=5","x":0.0096,"y":0.419},{"s":"n=5","x":0.0138,"y":0.82},{"s":"n=5","x":0.0197,"y":1.093},{"s":"n=5","x":0.0268,"y":1.306},{"s":"n=5","x":0.0368,"y":1.519},{"s":"n=5","x":0.0485,"y":1.624},{"s":"n=5","x":0.064,"y":1.624},{"s":"n=5","x":0.079,"y":1.624},{"s":"n=5","x":0.094,"y":1.624},{"s":"n=5","x":0.108,"y":1.624},{"s":"n=5","x":0.123,"y":1.639},{"s":"n=5","x":0.138,"y":1.675},{"s":"n=5","x":0.153,"y":1.711},{"s":"n=5","x":0.168,"y":1.733},{"s":"n=5","x":0.182,"y":1.758},{"s":"n=5","x":0.197,"y":1.774},{"s":"n=5","x":0.212,"y":1.789},{"s":"n=5","x":0.226,"y":1.787},{"s":"n=5","x":0.241,"y":1.787},{"s":"n=5","x":0.256,"y":1.787},{"s":"n=5","x":0.27,"y":1.79},{"s":"n=5","x":0.285,"y":1.801},{"s":"n=5","x":0.3,"y":1.81},{"s":"n=5","x":0.314,"y":1.819},{"s":"n=5","x":0.329,"y":1.828},{"s":"n=5","x":0.344,"y":1.841},{"s":"n=5","x":0.358,"y":1.855},{"s":"n=5","x":0.373,"y":1.864},{"s":"n=5","x":0.387,"y":1.873},{"s":"n=5","x":0.4,"y":1.879}
    ],
    "d": [
      {"s":"n=2","x":-0.05,"y":0.02},{"s":"n=2","x":-0.046,"y":0.02},{"s":"n=2","x":-0.042,"y":0.02},{"s":"n=2","x":-0.038,"y":0.02},{"s":"n=2","x":-0.034,"y":0.02},{"s":"n=2","x":-0.03,"y":0.02},{"s":"n=2","x":-0.026,"y":0.02},{"s":"n=2","x":-0.022,"y":0.02},{"s":"n=2","x":-0.018,"y":0.02},{"s":"n=2","x":-0.014,"y":0.02},{"s":"n=2","x":-0.01,"y":0.02},{"s":"n=2","x":-0.006,"y":0.02},{"s":"n=2","x":-0.002,"y":0.02},{"s":"n=2","x":0.002,"y":0.02},{"s":"n=2","x":0.005,"y":0.02},{"s":"n=2","x":0.008,"y":0.02},{"s":"n=2","x":0.01,"y":3.93},{"s":"n=2","x":0.018,"y":3.04},{"s":"n=2","x":0.0247,"y":1.98},{"s":"n=2","x":0.032,"y":1.21},{"s":"n=2","x":0.04,"y":0.78},{"s":"n=2","x":0.0487,"y":0.96},{"s":"n=2","x":0.0567,"y":1.34},{"s":"n=2","x":0.0626,"y":1.13},{"s":"n=2","x":0.071,"y":1.0},{"s":"n=2","x":0.079,"y":0.88},{"s":"n=2","x":0.087,"y":0.76},{"s":"n=2","x":0.096,"y":0.7},{"s":"n=2","x":0.103,"y":0.62},{"s":"n=2","x":0.111,"y":0.54},{"s":"n=2","x":0.12,"y":0.5},{"s":"n=2","x":0.13,"y":0.45},{"s":"n=2","x":0.14,"y":0.4},{"s":"n=2","x":0.15,"y":0.36},{"s":"n=2","x":0.16,"y":0.33},{"s":"n=2","x":0.17,"y":0.3},{"s":"n=2","x":0.18,"y":0.28},{"s":"n=2","x":0.19,"y":0.26},{"s":"n=2","x":0.2,"y":0.25},{"s":"n=2","x":0.21,"y":0.24},
      {"s":"n=3","x":-0.05,"y":0.02},{"s":"n=3","x":-0.046,"y":0.02},{"s":"n=3","x":-0.042,"y":0.02},{"s":"n=3","x":-0.038,"y":0.02},{"s":"n=3","x":-0.034,"y":0.02},{"s":"n=3","x":-0.03,"y":0.02},{"s":"n=3","x":-0.026,"y":0.02},{"s":"n=3","x":-0.022,"y":0.02},{"s":"n=3","x":-0.018,"y":0.02},{"s":"n=3","x":-0.014,"y":0.02},{"s":"n=3","x":-0.01,"y":0.02},{"s":"n=3","x":-0.006,"y":0.02},{"s":"n=3","x":-0.002,"y":0.02},{"s":"n=3","x":0.002,"y":0.02},{"s":"n=3","x":0.005,"y":0.02},{"s":"n=3","x":0.008,"y":0.02},{"s":"n=3","x":0.0113,"y":4.72},{"s":"n=3","x":0.0155,"y":3.76},{"s":"n=3","x":0.0216,"y":2.54},{"s":"n=3","x":0.03,"y":1.54},{"s":"n=3","x":0.039,"y":0.91},{"s":"n=3","x":0.0484,"y":1.02},{"s":"n=3","x":0.0557,"y":1.38},{"s":"n=3","x":0.0665,"y":1.17},{"s":"n=3","x":0.077,"y":0.98},{"s":"n=3","x":0.087,"y":0.85},{"s":"n=3","x":0.097,"y":0.74},{"s":"n=3","x":0.107,"y":0.65},{"s":"n=3","x":0.117,"y":0.57},{"s":"n=3","x":0.1317,"y":0.46},{"s":"n=3","x":0.142,"y":0.41},{"s":"n=3","x":0.152,"y":0.37},{"s":"n=3","x":0.162,"y":0.33},{"s":"n=3","x":0.172,"y":0.3},{"s":"n=3","x":0.182,"y":0.27},{"s":"n=3","x":0.192,"y":0.255},{"s":"n=3","x":0.202,"y":0.245},{"s":"n=3","x":0.209,"y":0.25},{"s":"n=3","x":0.213,"y":0.3},{"s":"n=3","x":0.217,"y":0.36},{"s":"n=3","x":0.221,"y":0.31},{"s":"n=3","x":0.225,"y":0.27},
      {"s":"n=4","x":-0.05,"y":0.02},{"s":"n=4","x":-0.046,"y":0.02},{"s":"n=4","x":-0.042,"y":0.02},{"s":"n=4","x":-0.038,"y":0.02},{"s":"n=4","x":-0.034,"y":0.02},{"s":"n=4","x":-0.03,"y":0.02},{"s":"n=4","x":-0.026,"y":0.02},{"s":"n=4","x":-0.022,"y":0.02},{"s":"n=4","x":-0.018,"y":0.02},{"s":"n=4","x":-0.014,"y":0.02},{"s":"n=4","x":-0.01,"y":0.02},{"s":"n=4","x":-0.006,"y":0.02},{"s":"n=4","x":-0.002,"y":0.02},{"s":"n=4","x":0.002,"y":0.02},{"s":"n=4","x":0.005,"y":0.02},{"s":"n=4","x":0.008,"y":0.02},{"s":"n=4","x":0.009,"y":1.63},{"s":"n=4","x":0.0124,"y":4.53},{"s":"n=4","x":0.0178,"y":3.33},{"s":"n=4","x":0.0237,"y":2.17},{"s":"n=4","x":0.0325,"y":1.25},{"s":"n=4","x":0.044,"y":0.69},{"s":"n=4","x":0.054,"y":1.61},{"s":"n=4","x":0.065,"y":1.19},{"s":"n=4","x":0.075,"y":1.03},{"s":"n=4","x":0.086,"y":0.9},{"s":"n=4","x":0.097,"y":0.78},{"s":"n=4","x":0.108,"y":0.67},{"s":"n=4","x":0.119,"y":0.58},{"s":"n=4","x":0.13,"y":0.5},{"s":"n=4","x":0.141,"y":0.44},{"s":"n=4","x":0.152,"y":0.39},{"s":"n=4","x":0.163,"y":0.34},{"s":"n=4","x":0.174,"y":0.31},{"s":"n=4","x":0.185,"y":0.28},{"s":"n=4","x":0.196,"y":0.26},{"s":"n=4","x":0.207,"y":0.25},{"s":"n=4","x":0.214,"y":0.3},{"s":"n=4","x":0.221,"y":0.39},{"s":"n=4","x":0.23,"y":0.31},{"s":"n=4","x":0.245,"y":0.26},{"s":"n=4","x":0.26,"y":0.23},{"s":"n=4","x":0.275,"y":0.21},{"s":"n=4","x":0.29,"y":0.19},{"s":"n=4","x":0.305,"y":0.18},{"s":"n=4","x":0.32,"y":0.17},{"s":"n=4","x":0.335,"y":0.15},{"s":"n=4","x":0.34,"y":0.15},
      {"s":"n=5","x":-0.05,"y":0.02},{"s":"n=5","x":-0.046,"y":0.02},{"s":"n=5","x":-0.042,"y":0.02},{"s":"n=5","x":-0.038,"y":0.02},{"s":"n=5","x":-0.034,"y":0.02},{"s":"n=5","x":-0.03,"y":0.02},{"s":"n=5","x":-0.026,"y":0.02},{"s":"n=5","x":-0.022,"y":0.02},{"s":"n=5","x":-0.018,"y":0.02},{"s":"n=5","x":-0.014,"y":0.02},{"s":"n=5","x":-0.01,"y":0.02},{"s":"n=5","x":-0.006,"y":0.02},{"s":"n=5","x":-0.002,"y":0.02},{"s":"n=5","x":0.002,"y":0.02},{"s":"n=5","x":0.005,"y":0.02},{"s":"n=5","x":0.008,"y":0.02},{"s":"n=5","x":0.0108,"y":4.61},{"s":"n=5","x":0.015,"y":4.15},{"s":"n=5","x":0.0186,"y":2.95},{"s":"n=5","x":0.027,"y":1.85},{"s":"n=5","x":0.0387,"y":1.02},{"s":"n=5","x":0.0487,"y":1.29},{"s":"n=5","x":0.056,"y":1.4},{"s":"n=5","x":0.065,"y":1.23},{"s":"n=5","x":0.079,"y":0.96},{"s":"n=5","x":0.0936,"y":0.78},{"s":"n=5","x":0.108,"y":0.645},{"s":"n=5","x":0.1225,"y":0.53},{"s":"n=5","x":0.138,"y":0.43},{"s":"n=5","x":0.1525,"y":0.36},{"s":"n=5","x":0.167,"y":0.325},{"s":"n=5","x":0.182,"y":0.27},{"s":"n=5","x":0.196,"y":0.24},{"s":"n=5","x":0.211,"y":0.217},{"s":"n=5","x":0.225,"y":0.31},{"s":"n=5","x":0.24,"y":0.27},{"s":"n=5","x":0.255,"y":0.23},{"s":"n=5","x":0.269,"y":0.217},{"s":"n=5","x":0.284,"y":0.196},{"s":"n=5","x":0.298,"y":0.18},{"s":"n=5","x":0.313,"y":0.165},{"s":"n=5","x":0.327,"y":0.14},{"s":"n=5","x":0.342,"y":0.12},{"s":"n=5","x":0.357,"y":0.12},{"s":"n=5","x":0.371,"y":0.1},{"s":"n=5","x":0.386,"y":0.093},{"s":"n=5","x":0.4,"y":0.088}
    ]
  },
  "columns": 2,
  "bounds": "flush",
  "spacing": {"column": 419, "row": 403},
  "concat": [
    {
      "width": 1300, "height": 1036,
      "data": {"name": "a"},
      "layer": [
        {
          "mark": {"type": "line", "strokeWidth": 3.5, "clip": true},
          "encoding": {
            "x": {"field": "x", "type": "quantitative", "scale": {"domain": [-0.05, 0.4], "nice": false, "zero": false},
                  "axis": {"orient": "bottom", "values": [0, 0.1, 0.2, 0.3, 0.4], "labelExpr": "datum.value == 0 ? '0' : format(datum.value, '.1f')", "tickSize": -17, "labelPadding": 34, "title": "x/m", "titleX": 650, "titleY": 163}},
            "y": {"field": "y", "type": "quantitative", "scale": {"domain": [-0.25, 3.25], "nice": false, "zero": false},
                  "axis": {"orient": "left", "values": [0, 0.5, 1, 1.5, 2, 2.5, 3], "labelExpr": "datum.value == 0 ? '0' : format(datum.value, '.1f')", "tickSize": -17, "labelPadding": 44, "title": "p/MPa", "titleX": -157, "titleY": 518}},
            "color": {"field": "s", "type": "nominal", "scale": {"domain": ["n=2", "n=3", "n=4", "n=5", "n=3 (不考虑凝结)"], "range": ["#FF0000", "#000000", "#00FF00", "#0000FF", "#FF00FF"]}, "legend": null},
            "strokeDash": {"field": "s", "type": "nominal", "scale": {"domain": ["n=2", "n=3", "n=4", "n=5", "n=3 (不考虑凝结)"], "range": [[18, 9, 4, 9], [1, 0], [3, 12], [24, 9, 4, 9], [16, 8, 4, 8]]}, "legend": null}
          }
        },
        {
          "mark": {"type": "point", "filled": true, "opacity": 1, "clip": true},
          "encoding": {
            "x": {"field": "x", "type": "quantitative", "scale": {"domain": [-0.05, 0.4], "nice": false, "zero": false}, "axis": null},
            "y": {"field": "y", "type": "quantitative", "scale": {"domain": [-0.25, 3.25], "nice": false, "zero": false}, "axis": null},
            "color": {"field": "s", "type": "nominal", "scale": {"domain": ["n=2", "n=3", "n=4", "n=5", "n=3 (不考虑凝结)"], "range": ["#FF0000", "#000000", "#00FF00", "#0000FF", "#FF00FF"]}, "legend": null},
            "shape": {"field": "s", "type": "nominal", "scale": {"domain": ["n=2", "n=3", "n=4", "n=5", "n=3 (不考虑凝结)"], "range": ["square", "circle", "triangle-up", "triangle-down", "diamond"]}, "legend": null},
            "size": {"field": "s", "type": "nominal", "scale": {"domain": ["n=2", "n=3", "n=4", "n=5", "n=3 (不考虑凝结)"], "range": [540, 640, 980, 980, 980]}, "legend": null}
          }
        },
        {
          "transform": [{"filter": "false"}],
          "mark": {"type": "point", "filled": true, "opacity": 1},
          "encoding": {
            "x": {"field": "x", "type": "quantitative", "scale": {"domain": [-0.05, 0.4], "nice": false, "zero": false},
                  "axis": {"orient": "bottom", "values": [0.05, 0.15, 0.25, 0.35], "labels": false, "tickSize": -8, "title": "(a) 压强", "titleX": 650, "titleY": 266}},
            "y": {"field": "y", "type": "quantitative", "scale": {"domain": [-0.25, 3.25], "nice": false, "zero": false},
                  "axis": {"orient": "left", "values": [0.25, 0.75, 1.25, 1.75, 2.25, 2.75], "labels": false, "tickSize": -8, "title": null}},
            "color": {"field": "s", "type": "nominal", "scale": {"domain": ["n=2", "n=3", "n=4", "n=5", "n=3 (不考虑凝结)"], "range": ["#FF0000", "#000000", "#00FF00", "#0000FF", "#FF00FF"]},
                      "legend": {"orient": "none", "legendX": 606, "legendY": 82, "title": null, "labelFont": "Liberation Serif"}},
            "shape": {"field": "s", "type": "nominal", "scale": {"domain": ["n=2", "n=3", "n=4", "n=5", "n=3 (不考虑凝结)"], "range": [
              "M-4.7,-0.17H-2.85V0.17H-4.7Z M-0.75,-0.75H0.75V0.75H-0.75Z M0.75,-0.17H1.45V0.17H0.75Z M4.05,-0.17H4.7V0.17H4.05Z",
              "M-4.7,-0.17H4.7V0.17H-4.7Z M-0.8,0A0.8,0.8 0 1,1 0.8,0A0.8,0.8 0 1,1 -0.8,0Z",
              "M-4.75,-0.17H-4.4V0.17H-4.75Z M-2.75,-0.17H-2.4V0.17H-2.75Z M3.2,-0.17H3.55V0.17H3.2Z M0,-1L1.05,0.8H-1.05Z",
              "M-4.7,-0.17H-2.65V0.17H-4.7Z M0,1L-1.05,-0.8H1.05Z M0.9,-0.17H3V0.17H0.9Z M4.4,-0.17H4.7V0.17H4.4Z",
              "M-4.7,-0.17H-3V0.17H-4.7Z M-2.3,-0.17H-2V0.17H-2.3Z M0,-1.05L1.05,0L0,1.05L-1.05,0Z M1.9,-0.17H3.6V0.17H1.9Z"
            ]}, "legend": {"orient": "none", "legendX": 606, "legendY": 82, "title": null, "labelFont": "Liberation Serif"}}
          }
        }
      ],
      "resolve": {"scale": {"color": "independent", "shape": "independent"}, "axis": {"x": "independent", "y": "independent"}}
    },
    {
      "width": 1300, "height": 1036,
      "data": {"name": "b"},
      "layer": [
        {
          "mark": {"type": "line", "strokeWidth": 3.5, "clip": true},
          "encoding": {
            "x": {"field": "x", "type": "quantitative", "scale": {"domain": [-0.05, 0.5], "nice": false, "zero": false},
                  "axis": {"orient": "bottom", "values": [0, 0.1, 0.2, 0.3, 0.4, 0.5], "labelExpr": "datum.value == 0 ? '0' : format(datum.value, '.1f')", "tickSize": -17, "labelPadding": 34, "title": "x/m", "titleX": 650, "titleY": 163}},
            "y": {"field": "y", "type": "quantitative", "scale": {"domain": [100, 550], "nice": false, "zero": false},
                  "axis": {"orient": "left", "values": [100, 150, 200, 250, 300, 350, 400, 450, 500, 550], "labelExpr": "format(datum.value, 'd')", "tickSize": -17, "labelPadding": 44, "title": "T/K", "titleX": -165, "titleY": 518}},
            "color": {"field": "s", "type": "nominal", "scale": {"domain": ["n=2", "n=3", "n=4", "n=5", "n=3 (不考虑凝结)"], "range": ["#FF0000", "#000000", "#00FF00", "#0000FF", "#FF00FF"]}, "legend": null},
            "strokeDash": {"field": "s", "type": "nominal", "scale": {"domain": ["n=2", "n=3", "n=4", "n=5", "n=3 (不考虑凝结)"], "range": [[18, 9, 4, 9], [1, 0], [3, 12], [24, 9, 4, 9], [16, 8, 4, 8]]}, "legend": null}
          }
        },
        {
          "mark": {"type": "point", "filled": true, "opacity": 1, "clip": true},
          "encoding": {
            "x": {"field": "x", "type": "quantitative", "scale": {"domain": [-0.05, 0.5], "nice": false, "zero": false}, "axis": null},
            "y": {"field": "y", "type": "quantitative", "scale": {"domain": [100, 550], "nice": false, "zero": false}, "axis": null},
            "color": {"field": "s", "type": "nominal", "scale": {"domain": ["n=2", "n=3", "n=4", "n=5", "n=3 (不考虑凝结)"], "range": ["#FF0000", "#000000", "#00FF00", "#0000FF", "#FF00FF"]}, "legend": null},
            "shape": {"field": "s", "type": "nominal", "scale": {"domain": ["n=2", "n=3", "n=4", "n=5", "n=3 (不考虑凝结)"], "range": ["square", "circle", "triangle-up", "triangle-down", "diamond"]}, "legend": null},
            "size": {"field": "s", "type": "nominal", "scale": {"domain": ["n=2", "n=3", "n=4", "n=5", "n=3 (不考虑凝结)"], "range": [540, 640, 980, 980, 980]}, "legend": null}
          }
        },
        {
          "transform": [{"filter": "false"}],
          "mark": {"type": "point", "filled": true, "opacity": 1},
          "encoding": {
            "x": {"field": "x", "type": "quantitative", "scale": {"domain": [-0.05, 0.5], "nice": false, "zero": false},
                  "axis": {"orient": "bottom", "values": [0.05, 0.15, 0.25, 0.35, 0.45], "labels": false, "tickSize": -8, "title": "(b) 温度", "titleX": 650, "titleY": 266}},
            "y": {"field": "y", "type": "quantitative", "scale": {"domain": [100, 550], "nice": false, "zero": false},
                  "axis": {"orient": "left", "values": [125, 175, 225, 275, 325, 375, 425, 475, 525], "labels": false, "tickSize": -8, "title": null}},
            "color": {"field": "s", "type": "nominal", "scale": {"domain": ["n=2", "n=3", "n=4", "n=5", "n=3 (不考虑凝结)"], "range": ["#FF0000", "#000000", "#00FF00", "#0000FF", "#FF00FF"]},
                      "legend": {"orient": "none", "legendX": 664, "legendY": 11, "title": null, "labelFont": "Liberation Serif"}},
            "shape": {"field": "s", "type": "nominal", "scale": {"domain": ["n=2", "n=3", "n=4", "n=5", "n=3 (不考虑凝结)"], "range": [
              "M-4.7,-0.17H-2.85V0.17H-4.7Z M-0.75,-0.75H0.75V0.75H-0.75Z M0.75,-0.17H1.45V0.17H0.75Z M4.05,-0.17H4.7V0.17H4.05Z",
              "M-4.7,-0.17H4.7V0.17H-4.7Z M-0.8,0A0.8,0.8 0 1,1 0.8,0A0.8,0.8 0 1,1 -0.8,0Z",
              "M-4.75,-0.17H-4.4V0.17H-4.75Z M-2.75,-0.17H-2.4V0.17H-2.75Z M3.2,-0.17H3.55V0.17H3.2Z M0,-1L1.05,0.8H-1.05Z",
              "M-4.7,-0.17H-2.65V0.17H-4.7Z M0,1L-1.05,-0.8H1.05Z M0.9,-0.17H3V0.17H0.9Z M4.4,-0.17H4.7V0.17H4.4Z",
              "M-4.7,-0.17H-3V0.17H-4.7Z M-2.3,-0.17H-2V0.17H-2.3Z M0,-1.05L1.05,0L0,1.05L-1.05,0Z M1.9,-0.17H3.6V0.17H1.9Z"
            ]}, "legend": {"orient": "none", "legendX": 664, "legendY": 11, "title": null, "labelFont": "Liberation Serif"}}
          }
        }
      ],
      "resolve": {"scale": {"color": "independent", "shape": "independent"}, "axis": {"x": "independent", "y": "independent"}}
    },
    {
      "width": 1300, "height": 1040,
      "data": {"name": "c"},
      "layer": [
        {
          "mark": {"type": "line", "strokeWidth": 3.5, "clip": true},
          "encoding": {
            "x": {"field": "x", "type": "quantitative", "scale": {"domain": [-0.05, 0.4], "nice": false, "zero": false},
                  "axis": {"orient": "bottom", "values": [0, 0.1, 0.2, 0.3, 0.4], "labelExpr": "datum.value == 0 ? '0' : format(datum.value, '.1f')", "tickSize": -17, "labelPadding": 38, "title": "x/m", "titleX": 650, "titleY": 164}},
            "y": {"field": "y", "type": "quantitative", "scale": {"domain": [-0.1, 2.0], "nice": false, "zero": false},
                  "axis": {"orient": "left", "values": [0, 0.2, 0.4, 0.6, 0.8, 1.0, 1.2, 1.4, 1.6, 1.8, 2.0], "labelExpr": "datum.value == 0 ? '0' : format(datum.value, '.1f')", "tickSize": -17, "labelPadding": 44, "title": "r/μm", "titleX": -159, "titleY": 520}},
            "color": {"field": "s", "type": "nominal", "scale": {"domain": ["n=2", "n=3", "n=4", "n=5"], "range": ["#FF0000", "#000000", "#00FF00", "#0000FF"]}, "legend": null},
            "strokeDash": {"field": "s", "type": "nominal", "scale": {"domain": ["n=2", "n=3", "n=4", "n=5"], "range": [[18, 9, 4, 9], [1, 0], [3, 12], [24, 9, 4, 9]]}, "legend": null}
          }
        },
        {
          "mark": {"type": "point", "filled": true, "opacity": 1, "clip": true},
          "encoding": {
            "x": {"field": "x", "type": "quantitative", "scale": {"domain": [-0.05, 0.4], "nice": false, "zero": false}, "axis": null},
            "y": {"field": "y", "type": "quantitative", "scale": {"domain": [-0.1, 2.0], "nice": false, "zero": false}, "axis": null},
            "color": {"field": "s", "type": "nominal", "scale": {"domain": ["n=2", "n=3", "n=4", "n=5"], "range": ["#FF0000", "#000000", "#00FF00", "#0000FF"]}, "legend": null},
            "shape": {"field": "s", "type": "nominal", "scale": {"domain": ["n=2", "n=3", "n=4", "n=5"], "range": ["square", "circle", "triangle-up", "diamond"]}, "legend": null},
            "size": {"field": "s", "type": "nominal", "scale": {"domain": ["n=2", "n=3", "n=4", "n=5"], "range": [540, 640, 980, 980]}, "legend": null}
          }
        },
        {
          "transform": [{"filter": "false"}],
          "mark": {"type": "point", "filled": true, "opacity": 1},
          "encoding": {
            "x": {"field": "x", "type": "quantitative", "scale": {"domain": [-0.05, 0.4], "nice": false, "zero": false},
                  "axis": {"orient": "bottom", "values": [0.05, 0.15, 0.25, 0.35], "labels": false, "tickSize": -8, "title": "(c) 液滴半径", "titleX": 650, "titleY": 272}},
            "y": {"field": "y", "type": "quantitative", "scale": {"domain": [-0.1, 2.0], "nice": false, "zero": false},
                  "axis": {"orient": "left", "values": [0.1, 0.3, 0.5, 0.7, 0.9, 1.1, 1.3, 1.5, 1.7, 1.9], "labels": false, "tickSize": -8, "title": null}},
            "color": {"field": "s", "type": "nominal", "scale": {"domain": ["n=2", "n=3", "n=4", "n=5"], "range": ["#FF0000", "#000000", "#00FF00", "#0000FF"]},
                      "legend": {"orient": "none", "legendX": 971, "legendY": 238, "title": null, "labelFont": "Liberation Serif"}},
            "shape": {"field": "s", "type": "nominal", "scale": {"domain": ["n=2", "n=3", "n=4", "n=5"], "range": [
              "M-4.7,-0.17H-2.85V0.17H-4.7Z M-0.75,-0.75H0.75V0.75H-0.75Z M0.75,-0.17H1.45V0.17H0.75Z M4.05,-0.17H4.7V0.17H4.05Z",
              "M-4.7,-0.17H4.7V0.17H-4.7Z M-0.8,0A0.8,0.8 0 1,1 0.8,0A0.8,0.8 0 1,1 -0.8,0Z",
              "M-4.75,-0.17H-4.4V0.17H-4.75Z M-2.75,-0.17H-2.4V0.17H-2.75Z M3.2,-0.17H3.55V0.17H3.2Z M0,-1L1.05,0.8H-1.05Z",
              "M-4.7,-0.17H-2.65V0.17H-4.7Z M0,1L-1.05,-0.8H1.05Z M0.9,-0.17H3V0.17H0.9Z M4.4,-0.17H4.7V0.17H4.4Z"
            ]}, "legend": {"orient": "none", "legendX": 971, "legendY": 238, "title": null, "labelFont": "Liberation Serif"}}
          }
        }
      ],
      "resolve": {"scale": {"color": "independent", "shape": "independent"}, "axis": {"x": "independent", "y": "independent"}}
    },
    {
      "width": 1300, "height": 1040,
      "data": {"name": "d"},
      "layer": [
        {
          "mark": {"type": "line", "strokeWidth": 3.5, "clip": true},
          "encoding": {
            "x": {"field": "x", "type": "quantitative", "scale": {"domain": [-0.05, 0.4], "nice": false, "zero": false},
                  "axis": {"orient": "bottom", "values": [0, 0.1, 0.2, 0.3, 0.4], "labelExpr": "datum.value == 0 ? '0' : format(datum.value, '.1f')", "tickSize": -17, "labelPadding": 38, "title": "x/m", "titleX": 650, "titleY": 164}},
            "y": {"field": "y", "type": "quantitative", "scale": {"domain": [-0.5, 5.5], "nice": false, "zero": false},
                  "axis": {"orient": "left", "values": [0, 1, 2, 3, 4, 5], "labelExpr": "format(datum.value, 'd')", "tickSize": -17, "labelPadding": 41, "title": "N/10¹⁶ (N/m³)", "titleX": -104, "titleY": 520}},
            "color": {"field": "s", "type": "nominal", "scale": {"domain": ["n=2", "n=3", "n=4", "n=5"], "range": ["#FF0000", "#000000", "#00FF00", "#0000FF"]}, "legend": null},
            "strokeDash": {"field": "s", "type": "nominal", "scale": {"domain": ["n=2", "n=3", "n=4", "n=5"], "range": [[18, 9, 4, 9], [1, 0], [3, 12], [24, 9, 4, 9]]}, "legend": null}
          }
        },
        {
          "mark": {"type": "point", "filled": true, "opacity": 1, "clip": true},
          "encoding": {
            "x": {"field": "x", "type": "quantitative", "scale": {"domain": [-0.05, 0.4], "nice": false, "zero": false}, "axis": null},
            "y": {"field": "y", "type": "quantitative", "scale": {"domain": [-0.5, 5.5], "nice": false, "zero": false}, "axis": null},
            "color": {"field": "s", "type": "nominal", "scale": {"domain": ["n=2", "n=3", "n=4", "n=5"], "range": ["#FF0000", "#000000", "#00FF00", "#0000FF"]}, "legend": null},
            "shape": {"field": "s", "type": "nominal", "scale": {"domain": ["n=2", "n=3", "n=4", "n=5"], "range": ["square", "circle", "triangle-up", "triangle-down"]}, "legend": null},
            "size": {"field": "s", "type": "nominal", "scale": {"domain": ["n=2", "n=3", "n=4", "n=5"], "range": [540, 640, 980, 980]}, "legend": null}
          }
        },
        {
          "transform": [{"filter": "false"}],
          "mark": {"type": "point", "filled": true, "opacity": 1},
          "encoding": {
            "x": {"field": "x", "type": "quantitative", "scale": {"domain": [-0.05, 0.4], "nice": false, "zero": false},
                  "axis": {"orient": "bottom", "values": [0.05, 0.15, 0.25, 0.35], "labels": false, "tickSize": -8, "title": "(d) 液滴数密度", "titleX": 650, "titleY": 272}},
            "y": {"field": "y", "type": "quantitative", "scale": {"domain": [-0.5, 5.5], "nice": false, "zero": false},
                  "axis": {"orient": "left", "values": [0.5, 1.5, 2.5, 3.5, 4.5], "labels": false, "tickSize": -8, "title": null}},
            "color": {"field": "s", "type": "nominal", "scale": {"domain": ["n=2", "n=3", "n=4", "n=5"], "range": ["#FF0000", "#000000", "#00FF00", "#0000FF"]},
                      "legend": {"orient": "none", "legendX": 973, "legendY": 83, "title": null, "labelFont": "Liberation Serif"}},
            "shape": {"field": "s", "type": "nominal", "scale": {"domain": ["n=2", "n=3", "n=4", "n=5"], "range": [
              "M-4.7,-0.17H-2.85V0.17H-4.7Z M-0.75,-0.75H0.75V0.75H-0.75Z M0.75,-0.17H1.45V0.17H0.75Z M4.05,-0.17H4.7V0.17H4.05Z",
              "M-4.7,-0.17H4.7V0.17H-4.7Z M-0.8,0A0.8,0.8 0 1,1 0.8,0A0.8,0.8 0 1,1 -0.8,0Z",
              "M-4.75,-0.17H-4.4V0.17H-4.75Z M-2.75,-0.17H-2.4V0.17H-2.75Z M3.2,-0.17H3.55V0.17H3.2Z M0,-1L1.05,0.8H-1.05Z",
              "M-4.7,-0.17H-2.65V0.17H-4.7Z M0,1L-1.05,-0.8H1.05Z M0.9,-0.17H3V0.17H0.9Z M4.4,-0.17H4.7V0.17H4.4Z"
            ]}, "legend": {"orient": "none", "legendX": 973, "legendY": 83, "title": null, "labelFont": "Liberation Serif"}}
          }
        }
      ],
      "resolve": {"scale": {"color": "independent", "shape": "independent"}, "axis": {"x": "independent", "y": "independent"}}
    }
  ],
  "resolve": {"scale": {"color": "independent", "shape": "independent", "size": "independent", "strokeDash": "independent"}}
}
